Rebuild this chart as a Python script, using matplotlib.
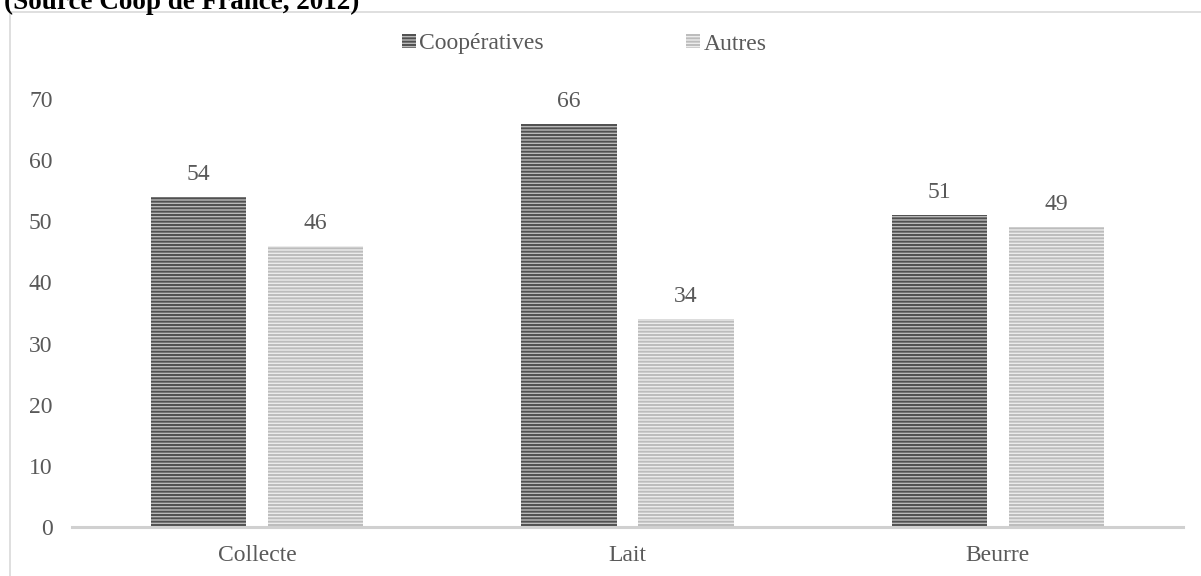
import matplotlib
matplotlib.use("Agg")
import matplotlib.pyplot as plt
from matplotlib.patches import Patch, Rectangle
import numpy as np

categories = ["Collecte", "Lait", "Beurre"]
coop_values = [54, 66, 51]
autres_values = [46, 34, 49]
series_names = ["Coopératives", "Autres"]
y_ticks = [0, 10, 20, 30, 40, 50, 60, 70]

plt.rcParams["font.family"] = ["Liberation Serif", "DejaVu Serif"]
plt.rcParams["hatch.linewidth"] = 1.4

text_gray = "#595959"
W, H = 1201, 576
fig = plt.figure(figsize=(W / 100, H / 100), dpi=100)

# outer chart frame (light gray), running off the right and bottom edges
fig.patches.append(Rectangle((10 / W, -0.1), 1.2, 1 - 12 / H + 0.1,
                             transform=fig.transFigure, fill=False,
                             edgecolor="#d9d9d9", linewidth=1.2, zorder=0))

# caption line, partly above the top edge
fig.text(4 / W, 1 - 9 / H, "(Source Coop de France, 2012)", ha="left",
         va="baseline", fontsize=19.5, fontweight="bold", color="black")

ax = fig.add_axes([72 / W, (H - 527) / H, 1111 / W, (527 - 38) / H])
x = np.arange(len(categories))
offset = 0.158
width = 0.258

styles = [
    dict(facecolor="#bababa", hatch_color="#505050"),
    dict(facecolor="#ececec", hatch_color="#bcbcbc"),
]
for vals, sign, st in zip([coop_values, autres_values], [-1, 1], styles):
    bars = ax.bar(x + sign * offset, vals, width=width,
                  facecolor=st["facecolor"], edgecolor=st["hatch_color"],
                  linewidth=0, hatch="-----", zorder=2)
    for xi, v in zip(x + sign * offset, vals):
        ax.annotate(f"{v}", (xi, v), xytext=(0, 12), textcoords="offset pixels",
                    ha="center", va="bottom", fontsize=17, color=text_gray)

ax.set_xlim(-0.5, 2.5)
ax.set_ylim(0, 80)
ax.set_yticks(y_ticks)
ax.set_xticks(x)
ax.set_xticklabels(categories)
ax.tick_params(axis="both", length=0, labelsize=17, labelcolor=text_gray)
ax.tick_params(axis="y", pad=14)
ax.tick_params(axis="x", pad=13)
for s in ["top", "right", "left"]:
    ax.spines[s].set_visible(False)
ax.spines["bottom"].set_color("#d0d0d0")
ax.spines["bottom"].set_linewidth(2.2)
ax.spines["bottom"].set_zorder(3)
ax.patch.set_alpha(0)

handles = [Patch(facecolor=st["facecolor"], edgecolor=st["hatch_color"],
                 hatch="-----", linewidth=0) for st in styles]
leg = ax.legend(handles, series_names, ncol=2, loc="center",
                bbox_to_anchor=(512 / 1111, (527 - 44) / (527 - 38)),
                frameon=False, fontsize=17, handlelength=0.6,
                handleheight=0.5, handletextpad=0.15, columnspacing=6.0,
                labelcolor=text_gray)

fig.savefig("out.png", dpi=100)
